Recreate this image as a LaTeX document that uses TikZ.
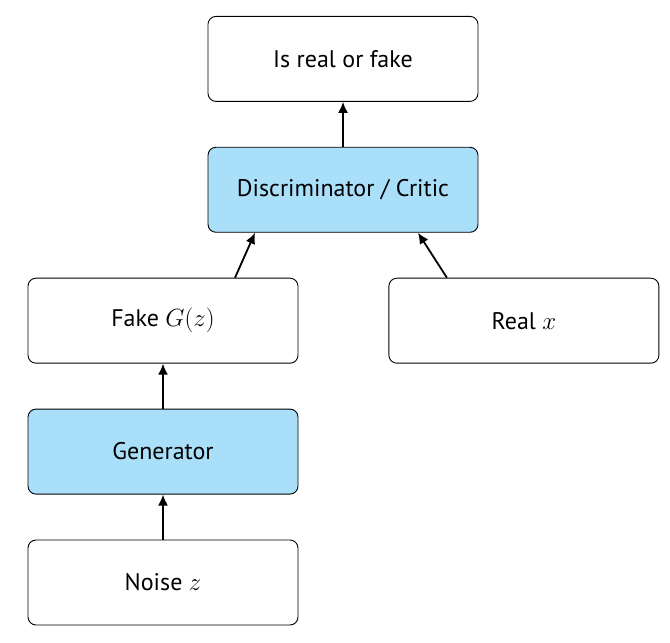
\documentclass[tikz,border=0pt]{standalone}
\usepackage{fontspec}
\setmainfont{PT Sans}
\usetikzlibrary{arrows.meta,positioning}
\definecolor{netblue}{RGB}{170,223,250}

\begin{document}
\begin{tikzpicture}[x=1pt,y=1pt,>={Latex[length=11pt,width=10pt]},
  node distance=45pt,font=\fontsize{24}{28}\selectfont,
  box/.style={draw,line width=0.9pt,rounded corners=8pt,align=center,
              minimum width=270pt,minimum height=85pt,inner sep=0pt},
  net/.style={box,fill=netblue},
  flow/.style={->,line width=1.8pt}]
\useasboundingbox (0,0) rectangle (670,643);
\node[box] (noise) at (163,60.5) {Noise $z$};
\node[net,above=of noise] (gen) {Generator};
\node[box,above=of gen] (fake) {Fake $G(z)$};
\node[box,right=90pt of fake] (real) {Real $x$};
\node[net,above=of fake.north,anchor=south,xshift=180pt] (disc)
  {Discriminator / Critic};
\node[box,above=of disc] (out) {Is real or fake};
\draw[flow] (noise) -- (gen);
\draw[flow] (gen) -- (fake);
\draw[flow] ([xshift=72pt]fake.north) -- ([xshift=-88pt]disc.south);
\draw[flow] ([xshift=-77pt]real.north) -- ([xshift=75pt]disc.south);
\draw[flow] (disc) -- (out);
\end{tikzpicture}
\end{document}
